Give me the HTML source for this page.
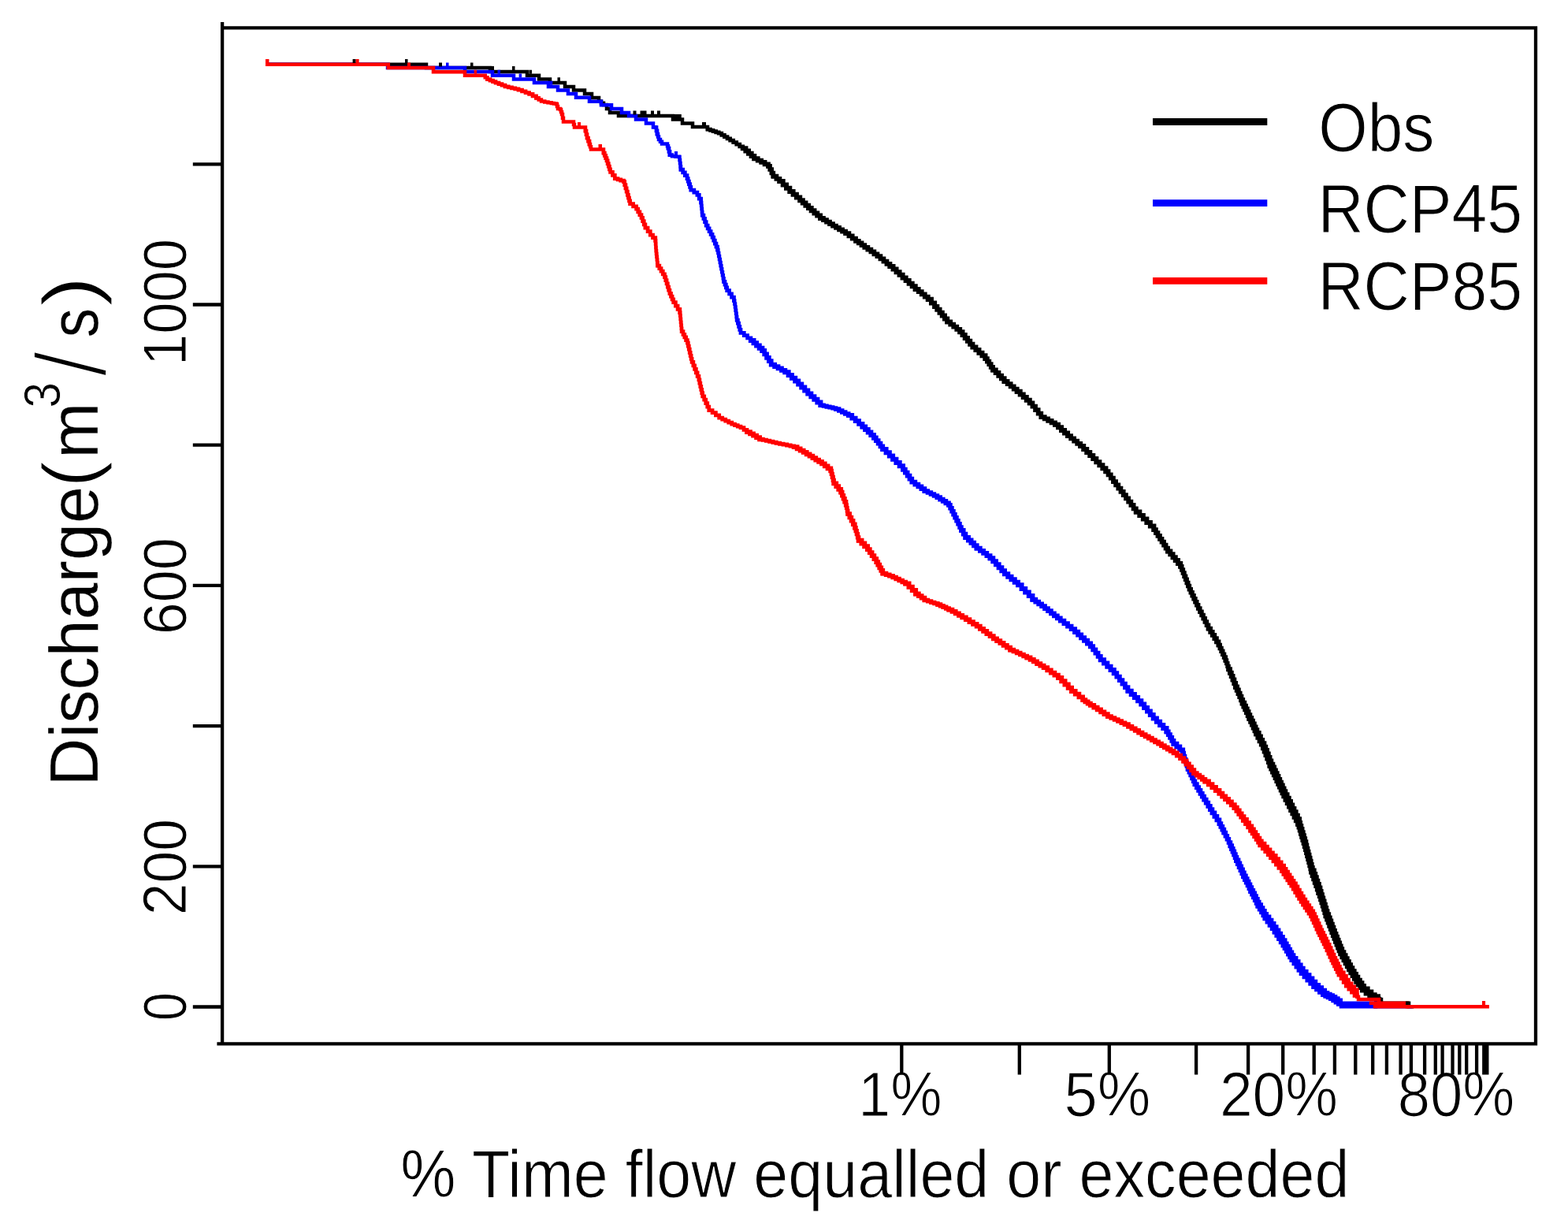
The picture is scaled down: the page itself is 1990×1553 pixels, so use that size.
<!DOCTYPE html>
<html><head><meta charset="utf-8"><title>Flow duration curve</title>
<style>html,body{margin:0;padding:0;background:#fff;}svg{display:block;}</style>
</head><body>
<svg width="1990" height="1553" viewBox="0 0 1990 1553">
<rect width="1990" height="1553" fill="#fff"/>
<g font-family='"Liberation Sans", Arial, sans-serif' fill="#000">
<text transform="translate(510.6 1518.9) scale(0.9195 1)" x="-2.69" y="0" font-size="86" stroke="#fff" stroke-width="1.0">% Time flow equalled or exceeded</text>
<text transform="translate(1093.9 1415.6) scale(0.9183 1)" x="-5" y="0" font-size="80" stroke="#fff" stroke-width="1.2">1%</text>
<text transform="translate(1352.8 1415.6) scale(0.9500 1)" x="-2.5" y="0" font-size="80" stroke="#fff" stroke-width="1.2">5%</text>
<text transform="translate(1551.4 1415.6) scale(0.9378 1)" x="-3.75" y="0" font-size="80" stroke="#fff" stroke-width="1.2">20%</text>
<text transform="translate(1776.1 1415.6) scale(0.9283 1)" x="-2.5" y="0" font-size="80" stroke="#fff" stroke-width="1.2">80%</text>
<text transform="translate(1677 191.8) scale(0.9230 1)" x="-4.08" y="0" font-size="87" stroke="#fff" stroke-width="1.0">Obs</text>
<text transform="translate(1678.7 294.7) scale(0.9255 1)" x="-6.8" y="0" font-size="87" stroke="#fff" stroke-width="1.0">RCP45</text>
<text transform="translate(1678.7 393.4) scale(0.9255 1)" x="-6.8" y="0" font-size="87" stroke="#fff" stroke-width="1.0">RCP85</text>
<text transform="translate(236 459.4) rotate(-90) scale(0.9280 1)" x="-4.88" y="0" font-size="78" stroke="#fff" stroke-width="1.0">1000</text>
<text transform="translate(236 801.8) rotate(-90) scale(0.9451 1)" x="-3.66" y="0" font-size="78" stroke="#fff" stroke-width="1.0">600</text>
<text transform="translate(236 1157.9) rotate(-90) scale(0.9411 1)" x="-3.66" y="0" font-size="78" stroke="#fff" stroke-width="1.0">200</text>
<text transform="translate(236 1293.2) rotate(-90) scale(0.8333 1)" x="-2.44" y="0" font-size="78" stroke="#fff" stroke-width="1.0">0</text>
<text transform="translate(123.5 991) rotate(-90) scale(0.9718 1)" x="-6.8" y="0" font-size="87" stroke="#fff" stroke-width="0.3">Discharge</text>
<text transform="translate(122 613.5) rotate(-90) scale(1.0227 1)" x="-4.55" y="0" font-size="97" stroke="#fff" stroke-width="1.2">(</text>
<text transform="translate(123.5 576.4) rotate(-90) scale(0.9819 1)" x="-5.44" y="0" font-size="87" stroke="#fff" stroke-width="0.3">m</text>
<text transform="translate(76 515.6) rotate(-90) scale(0.9129 1)" x="-2" y="0" font-size="64" stroke="#fff" stroke-width="0.8">3</text>
<text transform="translate(134.5 478.3) rotate(-90) scale(0.9269 1)" x="0" y="0" font-size="128.5" stroke="#fff" stroke-width="3.8">/</text>
<text transform="translate(123.5 427) rotate(-90) scale(0.8549 1)" x="-1.36" y="0" font-size="87" stroke="#fff" stroke-width="0.3">s</text>
<text transform="translate(122 388.7) rotate(-90) scale(1.1913 1)" x="0" y="0" font-size="97" stroke="#fff" stroke-width="1.2">)</text>
</g>
<g fill="none" stroke-linejoin="miter" stroke-linecap="square">
<path d="M340 81.7L539 81.7M539 81.7h2v4.3M541 86L620 86M620 86h2v5M622 91L667 91M667 91h2v4.8M669 95.8L682 95.8M682 95.8h2v4.7M684 100.5L694 100.5M694 100.5h4v4.5M698 105L715 105M715 105h2v5M717 110L726 110M726 110h2v4.6M728 114.6L740 114.6M740 114.6h2v4.4M742 119L748 119M748 119h3v5M751 124L755 124M755 124h5v4.6M760 128.6h3v2.2h3v2.2M766 133h4v5M770 138L772 138M772 138h2v5M774 143L783 143M783 143h2v4M785 147L852 147M852 147h2v4.5M854 151.5L864 151.5M864 151.5h2v5M866 156.5L877 156.5M877 156.5h2v4.5M879 161L895 161M895 161h3v3M1748 1267h3v0.9M1751 1267.9h2v4.8M1753 1272.7L1786 1272.7M1786 1272.7h2v4.6M1788 1277.3L1792 1277.3" stroke="#000" stroke-width="4.5"/>
<path d="M898 164h3.55v1.25h3.55v1.25h3.55v1.25h3.55v1.25M912.2 169h3.62v2.27h3.62v2.27h3.62v2.27h3.62v2.27M926.7 178.1h4.02v2.55h4.02v2.55h4.02v2.55h4.02v2.55" stroke="#000" stroke-width="4.75"/>
<path d="M1555.3 837.9h1.3v3.77h1.3v3.77h1.3v3.77" stroke="#000" stroke-width="5.25"/>
<path d="M975 210.8h2.13v4.3h2.13v4.3h2.13v4.3M1498.2 718.8h1.6v4.13h1.6v4.13h1.6v4.13h1.6v4.13h1.6v4.13h1.6v4.13h1.6v4.13M1509.4 747.7h1.88v4.03h1.88v4.03h1.88v4.03h1.88v4.03h1.88v4.03h1.88v4.03M1520.7 771.9h2.15v4.28h2.15v4.28h2.15v4.28h2.15v4.28h2.15v4.28h2.15v4.28M1546.5 818.5h1.76v3.88h1.76v3.88h1.76v3.88h1.76v3.88h1.76v3.88" stroke="#000" stroke-width="5.5"/>
<path d="M957.3 201.2h4.43v2.4h4.43v2.4h4.43v2.4h4.43v2.4M981.4 223.7h4v3.2h4v3.2M1041 276.8h4v2.42h4v2.42h4v2.42h4v2.42M1057 286.5h4.02v2.4h4.02v2.4h4.02v2.4h4.02v2.4M1073.1 296.1h4.3v3.23h4.3v3.23h4.3v3.23M1086 305.8h3.77v2.67h3.77v2.67h3.77v2.67M1097.3 313.8h4.03v2.83h4.03v2.83h4.03v2.83h4.03v2.83M1113.4 325.1h4.02v3.22h4.02v3.22h4.02v3.22h4.02v3.22M1161.7 366.9h4.02v3.23h4.02v3.23h4.02v3.23h4.02v3.23M1202.2 408.3h4.02v3.22h4.02v3.22h4.02v3.22h4.02v3.22M1250.5 455h2.4v3.6h2.4v3.6h2.4v3.6h2.4v3.6M1274.6 483.9h4.03v3.23h4.03v3.23h4.03v3.23h4.03v3.23M1306.8 511.3h3.62v4.42h3.62v4.42h3.62v4.42h3.62v4.42M1321.3 529h4.43v2.43h4.43v2.43h4.43v2.43h4.43v2.43M1355.1 553.1h4.03v3.22h4.03v3.22h4.03v3.22h4.03v3.22M1403.4 598.2h3.18v4.27h3.18v4.27h3.18v4.27h3.18v4.27h3.18v4.27h3.18v4.27M1422.5 623.8h3.22v4.3h3.22v4.3h3.22v4.3h3.22v4.3h3.22v4.3h3.22v4.3M1464.4 672.1h2.53v3.9h2.53v3.9h2.53v3.9h2.53v3.9h2.53v3.9h2.53v3.9h2.53v3.9M1533.6 797.6h2.58v4.18h2.58v4.18h2.58v4.18h2.58v4.18h2.58v4.18" stroke="#000" stroke-width="5.75"/>
<path d="M942.8 188.3h3.62v3.22h3.62v3.22h3.62v3.22h3.62v3.22M989.4 230.1h4.3v4.3h4.3v4.3h4.3v4.3M1002.3 243h4.3v3.77h4.3v3.77h4.3v3.77M1015.2 254.3h3.62v3.22h3.62v3.22h3.62v3.22h3.62v3.22M1029.7 267.2h3.77v3.2h3.77v3.2h3.77v3.2M1129.5 338h4.02v3.62h4.02v3.62h4.02v3.62h4.02v3.62M1145.6 352.5h4.03v3.6h4.03v3.6h4.03v3.6h4.03v3.6M1177.8 379.8h4.15v4.6h4.15v4.6M1186.1 389h3.22v3.86h3.22v3.86h3.22v3.86h3.22v3.86h3.22v3.86M1218.3 421.2h3.22v3.86h3.22v3.86h3.22v3.86h3.22v3.86h3.22v3.86M1234.4 440.5h4.02v3.62h4.02v3.62h4.02v3.62h4.02v3.62M1260.1 469.4h3.62v3.62h3.62v3.62h3.62v3.62h3.62v3.62M1290.7 496.8h4.02v3.62h4.02v3.62h4.02v3.62h4.02v3.62M1339 538.7h4.02v3.6h4.02v3.6h4.02v3.6h4.02v3.6M1371.2 566h4.02v4.03h4.02v4.03h4.02v4.03h4.02v4.03M1387.3 582.1h4.03v4.03h4.03v4.03h4.03v4.03h4.03v4.03M1441.8 649.6h4.52v4.5h4.52v4.5h4.52v4.5h4.52v4.5h4.52v4.5M1482.1 699.4h3.22v3.88h3.22v3.88h3.22v3.88h3.22v3.88h3.22v3.88M1559.2 849.2h1.78v4.46h1.78v4.46h1.78v4.46h1.78v4.46h1.78v4.46" stroke="#000" stroke-width="6.0"/>
<path d="M1568.1 871.5h1.78v4.14h1.78v4.14h1.78v4.14h1.78v4.14h1.78v4.14" stroke="#000" stroke-width="6.25"/>
<path d="M1577 892.2h1.78v3.84h1.78v3.84h1.78v3.84h1.78v3.84h1.78v3.84" stroke="#000" stroke-width="6.75"/>
<path d="M1585.9 911.4h1.78v3.86h1.78v3.86h1.78v3.86h1.78v3.86h1.78v3.86" stroke="#000" stroke-width="7.0"/>
<path d="M1594.8 930.7h2.23v4.42h2.23v4.42h2.23v4.42h2.23v4.42M1656.6 1073.2h1.06v4.05h1.06v4.05h1.06v4.05h1.06v4.05h1.06v4.05h1.06v4.05h1.06v4.05h1.06v4.05" stroke="#000" stroke-width="7.25"/>
<path d="M1603.7 948.4h1.76v4.46h1.76v4.46h1.76v4.46h1.76v4.46h1.76v4.46M1648.1 1044.7h1.21v4.07h1.21v4.07h1.21v4.07h1.21v4.07h1.21v4.07h1.21v4.07h1.21v4.07" stroke="#000" stroke-width="7.5"/>
<path d="M1674.4 1131.9h1.31v4.2h1.31v4.2h1.31v4.2h1.31v4.2h1.31v4.2h1.31v4.2h1.31v4.2" stroke="#000" stroke-width="7.75"/>
<path d="M1612.5 970.7h1.78v3.84h1.78v3.84h1.78v3.84h1.78v3.84h1.78v3.84M1621.4 989.9h1.78v3.86h1.78v3.86h1.78v3.86h1.78v3.86h1.78v3.86M1630.3 1009.2h2.23v4.43h2.23v4.43h2.23v4.43h2.23v4.43M1639.2 1026.9h2.22v4.45h2.22v4.45h2.22v4.45h2.22v4.45M1665.1 1105.6h1.55v4.38h1.55v4.38h1.55v4.38h1.55v4.38h1.55v4.38h1.55v4.38M1683.6 1161.3h1.55v4.12h1.55v4.12h1.55v4.12h1.55v4.12h1.55v4.12h1.55v4.12M1692.9 1186h1.55v3.87h1.55v3.87h1.55v3.87h1.55v3.87h1.55v3.87h1.55v3.87M1702.2 1209.2h2.16v4.02h2.16v4.02h2.16v4.02h2.16v4.02h2.16v4.02M1713 1229.3h2.32v3.85h2.32v3.85h2.32v3.85h2.32v3.85M1722.3 1244.7h2.57v3.6h2.57v3.6h2.57v3.6M1730 1255.5h4.65v3.9h4.65v3.9M1739.3 1263.3h4.35v1.85h4.35v1.85" stroke="#000" stroke-width="8.0"/>
<path d="M340 81.7L490 81.7M490 81.7h2v4.3M492 86L588 86M588 86h2v5M590 91L623 91M623 91h2v4.8M625 95.8L650 95.8M650 95.8h2v4.7M652 100.5L676 100.5M676 100.5h2v4.5M678 105L694 105M694 105h2v5M696 110L706 110M706 110h2v4.6M708 114.6L719 114.6M719 114.6h2v4.5M721 119.1L729 119.1M729 119.1h2v4.7M731 123.8L746 123.8M746 123.8h2v4.9M748 128.7L761 128.7M761 128.7h2v4.6M763 133.3L774 133.3M774 133.3h2v4.7M776 138L787 138M787 138h2v5M789 143L796 143M796 143h2v4M798 147L805 147M805 147h2v4.5M807 151.5L818 151.5M818 151.5h2v5M820 156.5L827 156.5M827 156.5h2v5M829 161.5L832 161.5M834 170h1v3.5h1v3.5M836 177h2v2.75h2v2.75M840 182.5L846 182.5M846 182.5h1v2.75h1v2.75M850 196.5h3v1.8M853 198.3h4.5v0.35h4.5v0.35M862 199h0.5v4.05h0.5v4.05h0.5v4.05h0.5v4.05M889.7 257h0.4v4.03h0.4v4.03h0.4v4.03h0.4v4.03M910.6 317h0.8v4.03h0.8v4.03h0.8v4.03h0.8v4.03M913.8 333.1h0.8v4.03h0.8v4.03h0.8v4.03h0.8v4.03h0.8v4.03h0.8v4.03M931.5 381.4h0.75v4.05h0.75v4.05M933 389.5h0.55v4.17h0.55v4.17h0.55v4.17h0.55v4.17M1700 1272.7L1744 1272.7M1744 1272.7h2v4.6M1746 1277.3L1790 1277.3" stroke="#00f" stroke-width="4.5"/>
<path d="M832 161.5h1v4.25h1v4.25M848 188h1v4.25h1v4.25M864 215.2h2.67v3.77h2.67v3.77h2.67v3.77M872 226.5h1.2v3.62h1.2v3.62h1.2v3.62h1.2v3.62M876.8 241h4.05v3.2h4.05v3.2M884.9 247.4h2.4v4.8h2.4v4.8M891.3 273.1h1.63v4.3h1.63v4.3h1.63v4.3M896.2 286h1.97v3.75h1.97v3.75h1.97v3.75h1.97v3.75M904.1 301h1.62v4h1.62v4h1.62v4h1.62v4M918.6 357.3h1.37v3.77h1.37v3.77h1.37v3.77M922.7 368.6h2.93v4.27h2.93v4.27h2.93v4.27M935.2 406.2h1.2v4.03h1.2v4.03h1.2v4.03h1.2v4.03M940 422.3h4.3v3.23h4.3v3.23h4.3v3.23" stroke="#00f" stroke-width="4.75"/>
<path d="M1041.4 514.1h3.86v0.96h3.86v0.96h3.86v0.96h3.86v0.96h3.86v0.96M1501.1 955.3h1.28v4.12h1.28v4.12h1.28v4.12h1.28v4.12h1.28v4.12" stroke="#00f" stroke-width="5.25"/>
<path d="M1060.7 518.9h4.02v2h4.02v2h4.02v2h4.02v2M1173.4 623h4.02v2.03h4.02v2.03h4.02v2.03h4.02v2.03M1204 640.7h2v4.02h2v4.02h2v4.02h2v4.02M1212 656.8h2v4.03h2v4.03h2v4.03h2v4.03M1507.5 975.9h1.8v3.86h1.8v3.86h1.8v3.86h1.8v3.86h1.8v3.86M1553.3 1056.5h2.05v4.18h2.05v4.18h2.05v4.18h2.05v4.18" stroke="#00f" stroke-width="5.5"/>
<path d="M967.4 444.9h2.83v4.43h2.83v4.43h2.83v4.43h2.83v4.43M978.7 462.6h4.42v2.4h4.42v2.4h4.42v2.4h4.42v2.4M1076.8 526.9h4.43v3.62h4.43v3.62h4.43v3.62h4.43v3.62M1109 555.4h2.82v3.62h2.82v3.62h2.82v3.62h2.82v3.62M1146 595.6h2.82v4.03h2.82v4.03h2.82v4.03h2.82v4.03M1157.3 611.7h4.03v2.82h4.03v2.82h4.03v2.82h4.03v2.82M1189.5 631.1h3.62v2.4h3.62v2.4h3.62v2.4h3.62v2.4M1220 672.9h2.7v4.6h2.7v4.6M1239.6 695.6h4.25v3.17h4.25v3.17h4.25v3.17h4.25v3.17M1310.4 760.7h3.9v2.85h3.9v2.85h3.9v2.85h3.9v2.85M1326 772.1h3.96v3.1h3.96v3.1h3.96v3.1h3.96v3.1h3.96v3.1M1345.8 787.6h4.6v3.55h4.6v3.55h4.6v3.55h4.6v3.55M1384 820.2h3.2v4.25h3.2v4.25h3.2v4.25h3.2v4.25M1413.8 854.2h3.54v4.5h3.54v4.5h3.54v4.5h3.54v4.5h3.54v4.5M1480.5 928.3h2.25v3.85h2.25v3.85h2.25v3.85h2.25v3.85M1516.5 995.2h2.32v3.86h2.32v3.86h2.32v3.86h2.32v3.86h2.32v3.86M1528.1 1014.5h2.58v4.2h2.58v4.2h2.58v4.2h2.58v4.2M1538.4 1031.3h3v4.57h3v4.57h3v4.57M1547.4 1045h1.97v3.83h1.97v3.83h1.97v3.83" stroke="#00f" stroke-width="5.75"/>
<path d="M952.9 432h3.62v3.22h3.62v3.22h3.62v3.22h3.62v3.22M996.4 472.2h4.27v3.77h4.27v3.77h4.27v3.77M1009.2 483.5h4.02v4.03h4.02v4.03h4.02v4.03h4.02v4.03M1025.3 499.6h4.03v3.62h4.03v3.62h4.03v3.62h4.03v3.62M1094.5 541.4h3.62v3.5h3.62v3.5h3.62v3.5h3.62v3.5M1120.3 569.9h4.27v4.3h4.27v4.3h4.27v4.3M1133.1 582.8h4.3v4.27h4.3v4.27h4.3v4.27M1225.4 682.1h3.55v3.38h3.55v3.38h3.55v3.38h3.55v3.38M1256.6 708.3h3.68v3.98h3.68v3.98h3.68v3.98h3.68v3.98h3.68v3.98M1275 728.2h4.25v3.52h4.25v3.52h4.25v3.52h4.25v3.52M1292 742.3h4.6v4.6h4.6v4.6h4.6v4.6h4.6v4.6M1364.2 801.8h3.96v3.68h3.96v3.68h3.96v3.68h3.96v3.68h3.96v3.68M1396.8 837.2h4.25v4.25h4.25v4.25h4.25v4.25h4.25v4.25M1431.5 876.7h4.2v4.2h4.2v4.2h4.2v4.2h4.2v4.2M1448.3 893.5h3.85v4.5h3.85v4.5h3.85v4.5h3.85v4.5M1463.7 911.5h4.2v4.2h4.2v4.2h4.2v4.2h4.2v4.2M1489.5 943.7h3.87v3.87h3.87v3.87h3.87v3.87M1561.5 1073.2h1.56v3.7h1.56v3.7h1.56v3.7h1.56v3.7h1.56v3.7" stroke="#00f" stroke-width="6.0"/>
<path d="M1569.3 1091.7h1.84v4.02h1.84v4.02h1.84v4.02h1.84v4.02h1.84v4.02" stroke="#00f" stroke-width="6.5"/>
<path d="M1578.5 1111.8h1.86v3.72h1.86v3.72h1.86v3.72h1.86v3.72h1.86v3.72" stroke="#00f" stroke-width="6.75"/>
<path d="M1587.8 1130.4h1.86v3.7h1.86v3.7h1.86v3.7h1.86v3.7h1.86v3.7" stroke="#00f" stroke-width="7.0"/>
<path d="M1597.1 1148.9h2.33v3.88h2.33v3.88h2.33v3.88h2.33v3.88" stroke="#00f" stroke-width="7.25"/>
<path d="M1606.4 1164.4h3.07v4.25h3.07v4.25h3.07v4.25h3.07v4.25" stroke="#00f" stroke-width="7.75"/>
<path d="M1618.7 1181.4h2.7v4.25h2.7v4.25h2.7v4.25h2.7v4.25M1629.5 1198.4h2.18v3.7h2.18v3.7h2.18v3.7h2.18v3.7h2.18v3.7M1640.4 1216.9h3.07v4.25h3.07v4.25h3.07v4.25h3.07v4.25M1652.7 1233.9h3.88v4.25h3.88v4.25h3.88v4.25h3.88v4.25M1668.2 1250.9h3.93v3.37h3.93v3.37h3.93v3.37M1680 1261h3.33v1.67h3.33v1.67h3.33v1.67M1690 1266h3.33v2.23h3.33v2.23h3.33v2.23" stroke="#00f" stroke-width="8.0"/>
<path d="M1702 1277.3H1746" stroke="#00f" stroke-width="4.5"/>
<path d="M339.2 77.2L339.2 81.7M339.2 81.7L490.8 81.7M490.8 81.7h2v4.4M492.8 86.1L548 86.1M548 86.1h2v5.1M550 91.2L588 91.2M588 91.2h2v4.6M590 95.8L613 95.8M613 95.8h2.75v2.4h2.75v2.4M680.5 124.3h3.25v2.15h3.25v2.15M687 128.6h4.27v0.8h4.27v0.8h4.27v0.8M699.8 131h3.1v0.5h3.1v0.5M706 132h1v3h1v3M708 138h3v1M711 139h1v3h1v3M713 145h1v4.75h1v4.75M715 154.5L727 154.5M727 154.5h1v3.5h1v3.5M729 161.5L741 161.5M741 161.5h2v4.5M748 183h1v3.25h1v3.25M750 189.5L763 189.5M763 189.5h3v4.5M831.8 305.3h0.27v4.3h0.27v4.3h0.27v4.3M832.6 318.2h0.4v3.76h0.4v3.76h0.4v3.76h0.4v3.76h0.4v3.76M862.8 396.6h0.4v4.02h0.4v4.02h0.4v4.02h0.4v4.02h0.4v4.02h0.4v4.02M1720.7 1261.7h1.65v3.15h1.65v3.15M1724 1268L1748 1268M1748 1268h2v4.7M1750 1272.7L1784 1272.7M1784 1272.7h2v4.6M1786 1277.3L1887.7 1277.3" stroke="#f00" stroke-width="4.5"/>
<path d="M618.5 100.6h3.5v1.47h3.5v1.47h3.5v1.47M629 105h4v1.6h4v1.6h4v1.6M641 109.8h4.25v1.05h4.25v1.05h4.25v1.05h4.25v1.05M658 114h4.53v1.8h4.53v1.8h4.53v1.8M671.6 119.4h4.45v2.45h4.45v2.45M743 166h1v4.5h1v4.5M745 175h1.5v4h1.5v4M766 194h1.33v3.3h1.33v3.3h1.33v3.3M770 203.9h1.15v3.62h1.15v3.62h1.15v3.62h1.15v3.62M774.6 218.4h2.85v4.05h2.85v4.05M780.3 226.5h3.73v1.33h3.73v1.33h3.73v1.33M791.5 230.5h1.22v4.23h1.22v4.23h1.22v4.23h1.22v4.23M796.4 247.4h1.07v3.77h1.07v3.77h1.07v3.77M799.6 258.7h4v3.2h4v3.2M807.6 265.1h2.13v3.77h2.13v3.77h2.13v3.77M814 276.4h1.63v4.27h1.63v4.27h1.63v4.27M818.9 289.2h3.2v4.45h3.2v4.45M825.3 298.1h3.25v3.6h3.25v3.6M834.6 337h2.22v3.62h2.22v3.62h2.22v3.62h2.22v3.62M843.5 351.5h1.28v4.18h1.28v4.18h1.28v4.18h1.28v4.18h1.28v4.18M849.9 372.4h1.6v3.77h1.6v3.77h1.6v3.77M854.7 383.7h2.7v4.3h2.7v4.3h2.7v4.3M865.2 420.7h1.8v3.62h1.8v3.62h1.8v3.62h1.8v3.62M872.4 435.2h0.95v4.02h0.95v4.02h0.95v4.02h0.95v4.02h0.95v4.02h0.95v4.02M878.1 459.3h1.76v4.52h1.76v4.52h1.76v4.52h1.76v4.52h1.76v4.52M886.9 481.9h0.96v4.18h0.96v4.18h0.96v4.18h0.96v4.18h0.96v4.18M891.7 502.8h2.02v4.42h2.02v4.42h2.02v4.42h2.02v4.42M899.8 520.5h4.3v3.23h4.3v3.23h4.3v3.23M912.7 530.2h4.02v2h4.02v2h4.02v2h4.02v2M928.8 538.2h3.73v1.43h3.73v1.43h3.73v1.43M940 542.5h4v2.85h4v2.85" stroke="#f00" stroke-width="4.75"/>
<path d="M964.1 557.3h4.2v0.98h4.2v0.98h4.2v0.98h4.2v0.98h4.2v0.98M985.1 562.2h4.5v0.96h4.5v0.96h4.5v0.96h4.5v0.96h4.5v0.96M1073.6 640.7h0.8v3.77h0.8v3.77h0.8v3.77" stroke="#f00" stroke-width="5.0"/>
<path d="M1054.3 597.3h1v4.03h1v4.03h1v4.03h1v4.03M1084.9 669.7h1.2v4.02h1.2v4.02h1.2v4.02h1.2v4.02M1173.4 761.4h4.15v1.43h4.15v1.43h4.15v1.43h4.15v1.43" stroke="#f00" stroke-width="5.25"/>
<path d="M1067.2 624.6h1.6v4.03h1.6v4.03h1.6v4.03h1.6v4.03M1076 652h2.23v4.43h2.23v4.43h2.23v4.43h2.23v4.43M1120.3 727.6h4.27v1.63h4.27v1.63h4.27v1.63M1133.1 732.5h4.03v2h4.03v2h4.03v2h4.03v2M1190 767.1h3.55v1.6h3.55v1.6h3.55v1.6h3.55v1.6M1282.1 824.5h4.24v1.98h4.24v1.98h4.24v1.98h4.24v1.98h4.24v1.98M1405.8 908.9h4.36v2.06h4.36v2.06h4.36v2.06h4.36v2.06h4.36v2.06" stroke="#f00" stroke-width="5.5"/>
<path d="M948 548.2h4.03v2.27h4.03v2.27h4.03v2.27h4.03v2.27M1007.6 567h4.03v2.32h4.03v2.32h4.03v2.32h4.03v2.32M1023.7 576.3h3.86v2.42h3.86v2.42h3.86v2.42h3.86v2.42h3.86v2.42M1043 588.4h3.77v2.97h3.77v2.97h3.77v2.97M1058.3 613.4h2.97v3.73h2.97v3.73h2.97v3.73M1101 697h2.8v4.03h2.8v4.03h2.8v4.03h2.8v4.03M1112.2 713.1h2.02v3.62h2.02v3.62h2.02v3.62h2.02v3.62M1162.1 753.4h3.77v2.67h3.77v2.67h3.77v2.67M1204.2 773.5h4.25v2.47h4.25v2.47h4.25v2.47h4.25v2.47M1221.2 783.4h4.6v2.83h4.6v2.83h4.6v2.83h4.6v2.83M1239.6 794.7h4.24v3.12h4.24v3.12h4.24v3.12h4.24v3.12h4.24v3.12M1260.8 810.3h4.26v2.84h4.26v2.84h4.26v2.84h4.26v2.84h4.26v2.84M1303.3 834.4h4.26v2.54h4.26v2.54h4.26v2.54h4.26v2.54h4.26v2.54M1324.6 847.1h4.6v3.2h4.6v3.2h4.6v3.2h4.6v3.2M1360 876.9h4.7v3.77h4.7v3.77h4.7v3.77M1374.1 888.2h3.27v2.2h3.27v2.2h3.27v2.2M1383.9 894.8h4.38v2.82h4.38v2.82h4.38v2.82h4.38v2.82h4.38v2.82M1427.6 919.2h4.38v2.58h4.38v2.58h4.38v2.58h4.38v2.58h4.38v2.58M1449.5 932.1h4.12v2.32h4.12v2.32h4.12v2.32h4.12v2.32h4.12v2.32M1470.1 943.7h3.88v2.32h3.88v2.32h3.88v2.32h3.88v2.32h3.88v2.32M1489.5 955.3h4.27v3.43h4.27v3.43h4.27v3.43M1515.2 981.1h3.55v2.57h3.55v2.57h3.55v2.57h3.55v2.57" stroke="#f00" stroke-width="5.75"/>
<path d="M1089.7 685.8h3.77v3.73h3.77v3.73h3.77v3.73M1149.2 740.5h4.3v4.3h4.3v4.3h4.3v4.3M1343 859.9h4.25v4.25h4.25v4.25h4.25v4.25h4.25v4.25M1502.3 965.6h3.23v3.88h3.23v3.88h3.23v3.88h3.23v3.88M1529.4 991.4h4.5v3.85h4.5v3.85h4.5v3.85h4.5v3.85M1547.4 1006.8h3.86v3.6h3.86v3.6h3.86v3.6h3.86v3.6h3.86v3.6" stroke="#f00" stroke-width="6.0"/>
<path d="M1566.7 1024.8h2.9v3.88h2.9v3.88h2.9v3.88h2.9v3.88" stroke="#f00" stroke-width="6.25"/>
<path d="M1578.3 1040.3h3.17v4.27h3.17v4.27h3.17v4.27" stroke="#f00" stroke-width="6.75"/>
<path d="M1587.8 1053.1h2.48v3.7h2.48v3.7h2.48v3.7h2.48v3.7h2.48v3.7" stroke="#f00" stroke-width="7.0"/>
<path d="M1600.2 1071.6h3.47v3.88h3.47v3.88h3.47v3.88h3.47v3.88" stroke="#f00" stroke-width="7.5"/>
<path d="M1614.1 1087.1h3.48v4.25h3.48v4.25h3.48v4.25h3.48v4.25M1628 1104.1h2.48v3.7h2.48v3.7h2.48v3.7h2.48v3.7h2.48v3.7M1640.4 1122.6h2.46v4.02h2.46v4.02h2.46v4.02h2.46v4.02h2.46v4.02M1652.7 1142.7h2.48v3.72h2.48v3.72h2.48v3.72h2.48v3.72h2.48v3.72M1665.1 1161.3h1.86v4.02h1.86v4.02h1.86v4.02h1.86v4.02h1.86v4.02M1674.4 1181.4h1.84v3.7h1.84v3.7h1.84v3.7h1.84v3.7h1.84v3.7M1683.6 1199.9h1.95v4.25h1.95v4.25h1.95v4.25h1.95v4.25M1691.4 1216.9h1.84v3.7h1.84v3.7h1.84v3.7h1.84v3.7h1.84v3.7M1700.6 1235.4h3.1v4.67h3.1v4.67h3.1v4.67M1709.9 1249.4h3.6v4.1h3.6v4.1h3.6v4.1" stroke="#f00" stroke-width="8.0"/>
<path d="M1745 1277.3H1786M1740 1272.7H1750" stroke="#f00" stroke-width="4.5"/>
</g>
<g stroke="none">
<path fill="#000" d="M447.6 75h4v5h-4zM514 75h3.5v5h-3.5zM557 79.5h4v5h-4zM597 79.5h3.5v5h-3.5zM623.5 84h3.5v5h-3.5zM650 84h3.5v5h-3.5zM671.5 88.7h3.5v5h-3.5zM707.5 98.2h3.5v5h-3.5zM1784 1270.4h4.4v4.6h-4.4zM803.5 140.5h4v5h-4zM812.5 140.5h8v5h-8zM826 140.5h4v5h-4zM834 140.5h4v5h-4zM856 145h8.8v5h-8.8zM891 155h5v5h-5z"/>
<path fill="#f00" d="M451.6 75h4v5h-4zM517 79.5h4v5h-4zM601.6 88.7h3.5v5h-3.5zM1881 1270h4.1v5h-4.1zM733 155h4v5h-4zM759.5 183h4.5v5h-4.5z"/>
<path fill="#00f" d="M566 79.5h3.5v5h-3.5zM631.5 88.7h3.5v5h-3.5zM658.6 93.6h3.5v5h-3.5zM697.8 102.8h3.5v5h-3.5zM856 192h4v5h-4z"/>
</g>
<g stroke="#000" fill="none" stroke-width="4.3">
<path d="M282.1 28V1326.4M280 35.3H1951.1M1949 33.2V1326.4M275.4 1324.3H1951.1"/>
<path d="M244.8 1277.5H282 M244.8 1099.3H282 M244.8 921.1H282 M244.8 742.9H282 M244.8 564.7H282 M244.8 386.5H282 M244.8 208.3H282 M1144.3 1324H1144.3V1363.6 M1293.8 1324H1293.8V1363.6 M1407.8 1324H1407.8V1363.6 M1518.1 1324H1518.1V1363.6 M1584.1 1324H1584.1V1363.6 M1628.2 1324H1628.2V1363.6 M1667.7 1324H1667.7V1363.6 M1693.9 1324H1693.9V1363.6 M1720.3 1324H1720.3V1363.6 M1742.2 1324H1742.2V1363.6 M1759.9 1324H1759.9V1363.6 M1777.6 1324H1777.6V1363.6 M1790.9 1324H1790.9V1363.6 M1808.1 1324H1808.1V1363.6 M1821.8 1324H1821.8V1363.6 M1830.6 1324H1830.6V1363.6 M1843.5 1324H1843.5V1363.6 M1852.3 1324H1852.3V1363.6 M1861.2 1324H1861.2V1363.6 M1874.1 1324H1874.1V1363.6 M1883.3 1324H1883.3V1363.6 M1887.3 1324H1887.3V1363.6"/>
</g>
<g stroke-width="8.8" fill="none">
<path d="M1463 154.5H1608.3" stroke="#000"/>
<path d="M1463 257.6H1608.3" stroke="#00f"/>
<path d="M1463 356.3H1608.3" stroke="#f00"/>
</g>
</svg>
</body></html>
